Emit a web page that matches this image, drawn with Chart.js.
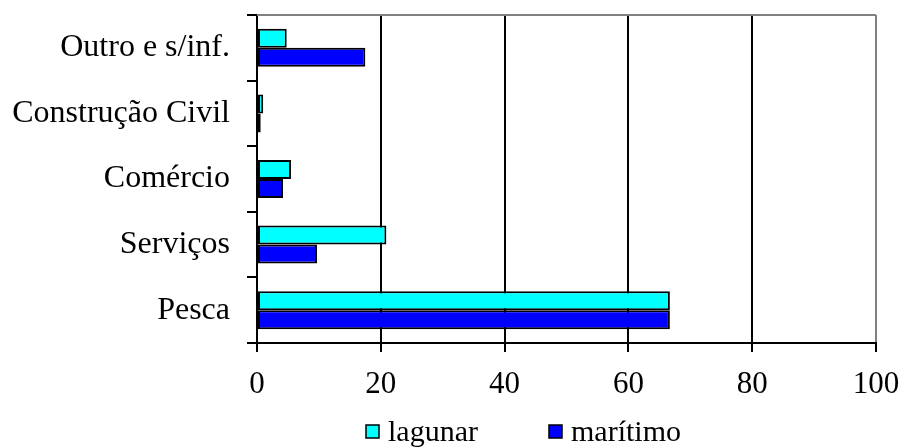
<!DOCTYPE html>
<html>
<head>
<meta charset="utf-8">
<script src="https://cdn.jsdelivr.net/npm/chart.js@4.4.1/dist/chart.umd.min.js"></script>
<style>
  html, body { margin: 0; padding: 0; background: #ffffff; }
  #wrap { width: 906px; height: 448px; }
</style>
</head>
<body>
<div id="wrap"><canvas id="graph" width="906" height="448"></canvas></div>
<script>
// categories, top to bottom
const categories = ['Outro e s/inf.', 'Construção Civil', 'Comércio', 'Serviços', 'Pesca'];
const lagunar = [4.8, 1.0, 5.5, 20.9, 66.7];
const maritimo = [17.5, 0.6, 4.2, 9.7, 66.7];
const xTicks = [0, 20, 40, 60, 80, 100];

const serif = 'Liberation Serif, Times New Roman, serif';

// gray frame on top of the plot area
const frameTop = {
    id: 'frameTop',
    beforeDatasetsDraw(chart) {
        const a = chart.chartArea;
        const c = chart.ctx;
        c.save();
        c.strokeStyle = '#808080';
        c.lineWidth = 2;
        c.beginPath();
        c.moveTo(a.left, a.top);
        c.lineTo(a.right, a.top);
        c.stroke();
        c.restore();
    }
};

// legend under the axis, like the original
const boxLegend = {
    id: 'boxLegend',
    afterDraw(chart) {
        const c = chart.ctx;
        const spots = [366, 549];
        c.save();
        c.font = '30px ' + serif;
        c.textBaseline = 'middle';
        chart.data.datasets.forEach((ds, i) => {
            const x = spots[i];
            c.fillStyle = ds.backgroundColor;
            c.fillRect(x, 425, 13, 13);
            c.strokeStyle = '#000000';
            c.lineWidth = 1.5;
            c.strokeRect(x, 425, 13, 13);
            c.fillStyle = '#000000';
            c.fillText(ds.label, x + 22, 433);
        });
        c.restore();
    }
};

const data = {
    labels: categories,
    datasets: [
        {
            label: 'lagunar',
            data: lagunar,
            backgroundColor: '#00FFFF',
            borderColor: '#000000',
            borderWidth: 2,
            borderSkipped: false,
            categoryPercentage: 0.58,
            barPercentage: 1.0
        },
        {
            label: 'marítimo',
            data: maritimo,
            backgroundColor: '#0000FF',
            borderColor: '#000000',
            borderWidth: 2,
            borderSkipped: false,
            categoryPercentage: 0.58,
            barPercentage: 1.0
        }
    ]
};

const options = {
    indexAxis: 'y',
    responsive: false,
    animation: false,
    layout: {
        padding: { top: 15, right: 30, bottom: 45, left: 0 }
    },
    scales: {
        x: {
            type: 'linear',
            min: 0,
            max: 100,
            afterBuildTicks(scale) {
                scale.ticks = xTicks.map(v => ({ value: v }));
            },
            afterFit(scale) {
                scale.height = 60;
                scale.paddingLeft = 0;
                scale.paddingRight = 0;
            },
            grid: {
                color: ctx => (ctx.tick && ctx.tick.value === 100) ? '#808080' : '#000000',
                tickColor: '#000000',
                lineWidth: 2,
                tickLength: 9
            },
            border: { color: '#000000', width: 2 },
            ticks: {
                color: '#000000',
                font: { family: serif, size: 31 },
                padding: 14,
                maxRotation: 0
            }
        },
        y: {
            type: 'category',
            afterFit(scale) {
                scale.width = 257;
                scale.paddingTop = 0;
                scale.paddingBottom = 0;
            },
            grid: {
                offset: true,
                drawOnChartArea: false,
                color: '#000000',
                lineWidth: 2,
                tickLength: 10
            },
            border: { color: '#000000', width: 2 },
            ticks: {
                color: '#000000',
                font: { family: serif, size: 32 },
                padding: 17
            }
        }
    },
    plugins: {
        legend: { display: false },
        tooltip: { enabled: false }
    }
};

const ctx = document.getElementById('graph').getContext('2d');
window.myChart = new Chart(ctx, {
    type: 'bar',
    data: data,
    options: options,
    plugins: [frameTop, boxLegend]
});
</script>
</body>
</html>
